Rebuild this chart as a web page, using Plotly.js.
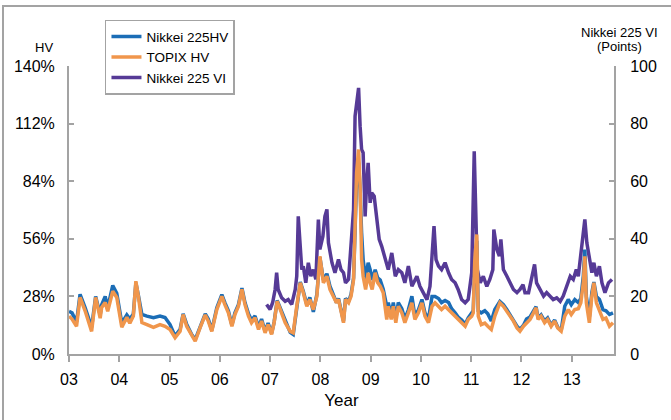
<!DOCTYPE html>
<html>
<head>
<meta charset="utf-8">
<script src="https://cdn.plot.ly/plotly-3.0.1.min.js"></script>
<style>
  html, body { margin: 0; padding: 0; background: #fff; overflow: hidden; }
  #wrap { position: relative; width: 671px; height: 420px; }
  #chart { position: absolute; left: 0; top: 0; width: 671px; height: 420px; }
  #frame { position: absolute; left: 2px; top: 5px; width: 720px; height: 480px;
           border: 2px solid #a3a3a3; pointer-events: none; }
</style>
</head>
<body>
<div id="wrap"><div id="chart"></div><div id="frame"></div></div>
<script>
// ---- Data (decimal years; HV in %, VI in points) ----
const hvYears = [
  2003.00,2003.06,2003.15,2003.22,2003.32,2003.45,2003.53,2003.62,2003.65,2003.72,2003.77,2003.87,2003.95,
  2004.05,2004.15,2004.21,2004.28,2004.33,2004.38,2004.45,2004.55,2004.68,2004.81,2004.91,
  2005.01,2005.11,2005.21,2005.27,2005.34,2005.44,2005.51,2005.61,2005.71,2005.77,2005.84,2005.94,
  2006.04,2006.10,2006.17,2006.24,2006.30,2006.37,2006.44,2006.50,2006.57,2006.63,2006.70,2006.77,2006.83,2006.90,2006.96,
  2007.03,2007.08,2007.14,2007.23,2007.30,2007.40,2007.46,2007.53,2007.60,2007.66,2007.73,2007.79,2007.86,2007.93,2007.99,
  2008.06,2008.13,2008.19,2008.26,2008.32,2008.36,2008.41,2008.46,2008.50,2008.56,2008.61,2008.66,2008.69,2008.72,2008.76,
  2008.79,2008.82,2008.85,2008.90,2008.95,2008.99,
  2009.03,2009.09,2009.14,2009.19,2009.25,2009.32,2009.35,2009.41,2009.45,2009.50,2009.55,2009.62,2009.68,2009.75,2009.82,2009.88,2009.95,
  2010.02,2010.08,2010.15,2010.22,2010.28,2010.35,2010.41,2010.48,2010.55,2010.61,2010.68,2010.74,2010.81,2010.88,2010.94,
  2011.01,2011.04,2011.07,2011.11,2011.14,2011.20,2011.27,2011.33,2011.40,2011.47,2011.57,2011.64,2011.71,2011.77,2011.84,2011.91,2011.97,
  2012.04,2012.10,2012.17,2012.24,2012.29,2012.33,2012.39,2012.46,2012.52,2012.59,2012.66,2012.72,2012.79,2012.86,2012.93,2012.99,
  2013.06,2013.13,2013.18,2013.23,2013.26,2013.29,2013.35,2013.40,2013.44,2013.49,2013.55,2013.62,2013.68,2013.75,2013.82
];
const nikkeiHV = [
  20.7,20.0,15.5,29.0,22.5,13.0,28.0,19.0,24.0,28.0,22.5,33.3,29.5,
  15.0,19.0,17.0,19.5,34.6,28.5,19.2,18.4,17.7,18.4,17.7,
  14.3,8.7,12.0,19.5,14.5,9.5,7.0,13.5,19.5,17.0,11.5,22.5,
  28.9,25.0,21.0,14.0,20.0,24.0,32.0,25.0,19.5,16.5,18.5,13.0,17.0,11.0,15.0,
  10.0,15.5,26.0,20.5,15.5,10.5,9.5,24.0,35.0,30.5,24.0,27.5,20.5,29.0,47.0,
  36.0,39.0,33.0,29.0,25.0,27.0,21.0,16.0,27.0,25.5,29.0,37.0,60.0,85.0,93.0,
  80.0,58.9,46.0,36.2,44.3,41.0,
  36.0,41.0,37.0,36.0,31.5,23.2,25.0,19.0,25.0,17.0,25.0,22.0,17.0,21.5,28.1,18.5,21.5,
  26.5,20.0,17.0,28.0,28.0,27.0,25.0,26.0,25.0,22.0,20.0,18.0,16.5,14.5,17.5,
  19.5,21.0,42.0,55.0,21.0,20.0,21.0,19.5,16.0,21.6,25.5,24.0,21.5,19.0,16.5,13.5,12.0,
  14.0,17.0,18.0,21.0,23.0,17.5,19.0,16.0,17.5,14.0,16.5,13.0,11.5,23.2,26.5,24.0,
  26.5,25.0,27.0,38.0,50.8,28.0,18.0,30.0,35.0,28.0,26.5,21.6,21.0,19.2,20.0
];
const topixHV = [
  18.4,17.0,13.5,27.5,21.0,11.0,27.5,17.4,22.6,25.0,20.8,30.5,27.5,
  13.0,17.8,15.0,18.4,35.4,28.0,15.3,14.3,12.9,14.3,13.5,
  11.9,7.9,11.0,19.2,13.5,8.7,6.2,12.9,19.0,16.0,11.0,21.6,
  28.0,24.0,20.0,13.5,19.2,23.2,31.4,24.0,18.4,15.2,17.6,11.9,16.0,10.3,14.3,
  9.5,15.2,25.7,20.0,15.2,11.0,10.3,23.2,34.6,29.8,23.2,26.5,21.6,28.0,47.5,
  34.6,37.8,31.4,28.0,24.9,26.5,20.0,15.2,26.5,24.9,28.1,36.2,62.1,88.0,99.4,
  81.6,46.0,37.8,31.4,39.5,34.6,
  31.4,39.5,34.6,33.0,29.8,16.8,23.2,16.8,23.2,15.2,23.2,20.0,15.2,20.0,24.9,16.8,20.0,
  24.9,18.4,15.2,23.2,24.9,23.2,21.6,23.2,21.6,20.0,18.4,16.8,15.2,13.5,16.8,
  18.4,20.0,45.0,58.1,18.4,14.3,15.0,13.5,11.9,18.4,24.9,23.2,20.8,18.4,16.0,12.7,11.1,
  13.5,15.2,16.8,20.0,22.5,16.8,18.4,15.2,16.8,13.5,16.0,12.7,11.1,18.4,21.6,19.2,
  21.6,22.0,24.9,34.6,47.5,24.9,15.2,28.1,34.6,24.9,21.6,16.8,17.5,13.5,15.2
];
const viYears = [
  2006.93,2007.00,2007.05,2007.10,2007.13,2007.16,2007.23,2007.30,2007.36,2007.43,2007.50,2007.53,2007.56,2007.60,
  2007.63,2007.66,2007.71,2007.76,2007.81,2007.86,2007.91,2007.96,2007.99,
  2008.05,2008.09,2008.13,2008.16,2008.23,2008.29,2008.36,2008.41,2008.46,2008.50,2008.56,2008.61,2008.66,2008.69,
  2008.72,2008.76,2008.79,2008.82,2008.85,2008.89,2008.92,2008.95,2008.99,
  2009.02,2009.07,2009.12,2009.17,2009.22,2009.29,2009.35,2009.42,2009.49,2009.55,2009.62,2009.68,2009.75,2009.82,2009.92,2009.98,
  2010.05,2010.12,2010.18,2010.22,2010.26,2010.30,2010.35,2010.41,2010.48,2010.55,2010.61,2010.68,2010.74,2010.81,2010.88,2010.94,2010.98,
  2011.01,2011.06,2011.09,2011.12,2011.18,2011.24,2011.31,2011.37,2011.43,2011.45,2011.51,2011.56,2011.59,2011.64,2011.71,2011.77,2011.84,2011.91,2011.97,
  2012.03,2012.07,2012.14,2012.20,2012.26,2012.30,2012.37,2012.44,2012.50,2012.57,2012.63,2012.70,2012.77,2012.83,2012.90,2012.97,
  2013.03,2013.09,2013.13,2013.18,2013.23,2013.26,2013.30,2013.35,2013.40,2013.44,2013.49,2013.55,2013.60,2013.66,2013.73,2013.80
];
const nikkeiVI = [
  17.2,15.5,17.8,22.4,28.2,22.4,19.5,18.3,18.9,17.2,22.4,27.0,47.8,36.3,
  29.3,30.5,24.7,31.7,27.0,29.3,25.9,46.7,36.3,
  40.9,47.8,50.2,38.6,31.7,28.2,32.8,29.3,28.2,24.7,25.9,37.4,50.2,82.6,
  86.0,92.4,79.1,71.0,69.9,47.8,59.4,66.4,52.5,
  56.0,54.8,47.8,39.8,37.4,32.8,29.3,35.1,27.0,29.3,28.2,24.7,30.5,23.5,27.0,23.5,
  21.3,18.9,23.5,32.8,44.4,32.8,30.5,29.3,31.7,28.2,25.9,24.7,22.4,18.9,17.8,18.9,23.5,
  28.2,70.4,43.2,29.3,24.7,27.0,23.5,25.9,29.3,43.2,36.3,34.0,39.8,29.3,27.0,24.7,22.4,21.3,22.4,
  24.1,21.3,21.3,27.0,31.1,24.7,22.4,20.1,21.3,20.1,18.9,19.5,18.3,20.1,23.5,27.0,
  25.9,29.3,27.0,34.0,43.2,46.7,38.6,32.8,28.2,31.7,27.0,30.5,24.7,21.3,24.7,25.9
];
const yearTicks = [2003,2004,2005,2006,2007,2008,2009,2010,2011,2012,2013];
const yearLabels = ['03','04','05','06','07','08','09','10','11','12','13'];
const hvTicks = [0,28,56,84,112,140];
const hvLabels = ['0%','28%','56%','84%','112%','140%'];
const viTicks = [0,20,40,60,80,100];

const FONT = 'Liberation Sans, Arial, Helvetica, sans-serif';
const AXC = '#a3a3a3';

const traces = [
  {x: hvYears, y: nikkeiHV, name: 'Nikkei 225HV', type: 'scatter', mode: 'lines',
   yaxis: 'y2', line: {color: '#1b6db6', width: 3.5}},
  {x: hvYears, y: topixHV, name: 'TOPIX HV', type: 'scatter', mode: 'lines',
   yaxis: 'y2', line: {color: '#f0964c', width: 3.5}},
  {x: viYears, y: nikkeiVI, name: 'Nikkei 225 VI', type: 'scatter', mode: 'lines',
   yaxis: 'y', line: {color: '#563a96', width: 3.5}}
];

const layout = {
  width: 671, height: 420,
  margin: {l: 69, r: 57, t: 66, b: 66, pad: 0},
  paper_bgcolor: 'rgba(0,0,0,0)', plot_bgcolor: '#fff',
  font: {family: FONT, color: '#000', size: 16},
  showlegend: true,
  legend: {x: 0.066, y: 1.161, xanchor: 'left', yanchor: 'top',
           bordercolor: '#a3a3a3', borderwidth: 1.5, bgcolor: '#fff',
           font: {family: FONT, size: 13.5, color: '#000'}, tracegroupgap: 0},
  xaxis: {range: [2003, 2013.84], tickvals: yearTicks, ticktext: yearLabels,
          ticks: 'outside', ticklen: 6, tickwidth: 2, tickcolor: AXC,
          showline: true, linecolor: AXC, linewidth: 2, showgrid: false, zeroline: false,
          tickfont: {family: FONT, size: 16}, ticklabelstandoff: 4,
          title: {text: 'Year', font: {family: FONT, size: 17}, standoff: 7}},
  yaxis: {range: [0, 100], tickvals: viTicks, side: 'right',
          ticks: 'inside', ticklen: 5, tickwidth: 2, tickcolor: AXC,
          showline: true, linecolor: AXC, linewidth: 2, showgrid: false, zeroline: false,
          tickfont: {family: FONT, size: 16}, ticklabelstandoff: 11},
  yaxis2: {range: [0, 140], tickvals: hvTicks, ticktext: hvLabels, side: 'left', overlaying: 'y',
           ticks: 'inside', ticklen: 5, tickwidth: 2, tickcolor: AXC,
           showline: true, linecolor: AXC, linewidth: 2, showgrid: false, zeroline: false,
           tickfont: {family: FONT, size: 16}, ticklabelstandoff: 9},
  annotations: [
    {text: 'HV', xref: 'paper', yref: 'paper', x: -0.045, y: 1.065, xanchor: 'center', yanchor: 'middle',
     showarrow: false, font: {family: FONT, size: 13}},
    {text: 'Nikkei 225 VI', xref: 'paper', yref: 'paper', x: 1.01, y: 1.118,
     xanchor: 'center', yanchor: 'middle', showarrow: false, font: {family: FONT, size: 13}},
    {text: '(Points)', xref: 'paper', yref: 'paper', x: 1.01, y: 1.068,
     xanchor: 'center', yanchor: 'middle', showarrow: false, font: {family: FONT, size: 13}}
  ]
};

Plotly.newPlot('chart', traces, layout, {staticPlot: true, displayModeBar: false});
</script>
</body>
</html>
